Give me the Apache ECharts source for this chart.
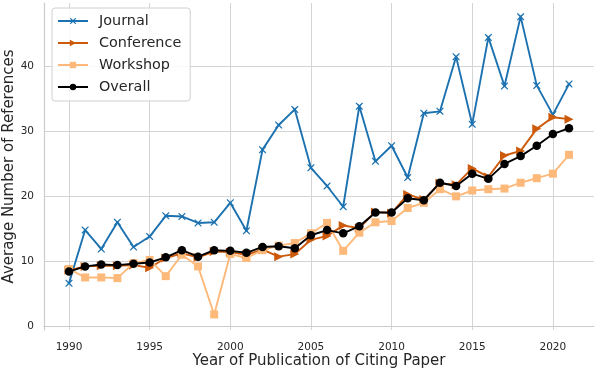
<!DOCTYPE html>
<html>
<head>
<meta charset="utf-8">
<script src="https://cdn.jsdelivr.net/npm/echarts@6/dist/echarts.min.js"></script>
<style>
html,body{margin:0;padding:0;background:#fff;}
#chart{width:596px;height:370px;}
</style>
</head>
<body>
<div id="chart"></div>
<script>
var years = [1990,1991,1992,1993,1994,1995,1996,1997,1998,1999,2000,2001,2002,2003,2004,2005,2006,2007,2008,2009,2010,2011,2012,2013,2014,2015,2016,2017,2018,2019,2020,2021];
var journal = [6.6,14.8,11.9,16.0,12.2,13.8,17.0,16.9,15.9,16.0,19.0,14.7,27.2,31.0,33.4,24.4,21.6,18.4,33.9,25.4,27.8,22.9,32.8,33.1,41.5,31.1,44.5,37.0,47.7,37.1,32.6,37.3];
var conference = [8.6,9.2,9.3,9.3,9.4,9.0,10.5,11.2,10.6,11.5,11.4,11.0,11.8,10.7,11.1,13.3,13.9,15.5,15.1,17.6,17.4,20.3,19.5,22.0,21.8,24.3,23.0,26.3,27.0,30.4,32.2,31.9];
var workshop = [8.8,7.5,7.5,7.4,9.7,10.2,7.7,11.0,9.2,1.8,11.1,10.5,11.7,12.4,12.8,14.3,15.9,11.6,14.4,16.0,16.2,18.2,19.0,21.1,20.0,20.9,21.1,21.2,22.1,22.8,23.5,26.4];
var overall = [8.4,9.2,9.5,9.4,9.6,9.8,10.6,11.7,10.7,11.7,11.6,11.3,12.2,12.3,12.0,14.0,14.8,14.3,15.4,17.5,17.5,19.7,19.4,22.1,21.6,23.5,22.7,25.0,26.2,27.8,29.6,30.5];
var xTicks = [1990,1995,2000,2005,2010,2015,2020];
var yTicks = [0,10,20,30,40];

function pairs(vals){ return years.map(function(y,i){ return [y, vals[i]]; }); }

var xSym = 'path://M1,0 L5,3.6 L9,0 L10,1 L6.4,5 L10,9 L9,10 L5,6.4 L1,10 L0,9 L3.6,5 L0,1 Z';
var font = 'DejaVu Sans';

var chart = echarts.init(document.getElementById('chart'), null, {renderer:'canvas'});
chart.setOption({
  animation: false,
  backgroundColor: '#fff',
  textStyle: {fontFamily: font},
  grid: {left: 44, right: 2, top: 3, bottom: 40, containLabel: false, outerBoundsMode: 'none'},
  legend: {
    orient: 'vertical', left: 52, top: 8,
    itemWidth: 30, itemHeight: 8, itemGap: 8,
    padding: [6, 9, 7, 5],
    backgroundColor: 'rgba(255,255,255,0.85)',
    borderColor: '#d0d0d0', borderWidth: 1, borderRadius: 3,
    textStyle: {fontFamily: font, fontSize: 14.4, color: '#262626', padding: [0,0,0,6]},
    data: ['Journal','Conference','Workshop','Overall']
  },
  xAxis: {
    type: 'value', min: 1988.45, max: 2022.55,
    name: 'Year of Publication of Citing Paper', nameLocation: 'middle', nameGap: 24,
    nameMoveOverlap: false,
    nameTextStyle: {fontFamily: font, fontSize: 15, color: '#262626'},
    axisLine: {show: true, lineStyle: {color: '#cccccc', width: 1.2}},
    axisTick: {show: false, customValues: xTicks},
    axisLabel: {customValues: xTicks, fontFamily: font, fontSize: 10.5, color: '#262626', margin: 12,
      formatter: function(v){ return String(Math.round(v)); }},
    splitLine: {show: true, lineStyle: {color: '#d4d4d4', width: 1}}
  },
  yAxis: {
    type: 'value', min: -0.6, max: 49.8,
    name: 'Average Number of References', nameLocation: 'middle', nameGap: 27.5,
    nameMoveOverlap: false,
    nameTextStyle: {fontFamily: font, fontSize: 15, color: '#262626'},
    axisLine: {show: true, lineStyle: {color: '#cccccc', width: 1.2}},
    axisTick: {show: false, customValues: yTicks},
    axisLabel: {customValues: yTicks, fontFamily: font, fontSize: 10.5, color: '#262626', margin: 10,
      formatter: function(v){ return String(Math.round(v)); }},
    splitLine: {show: true, lineStyle: {color: '#d4d4d4', width: 1}}
  },
  series: [
    {name: 'Journal', type: 'line', data: pairs(journal), color: '#1c72b0',
     symbol: xSym, symbolSize: 7.5, symbolKeepAspect: true, showAllSymbol: true,
     lineStyle: {width: 1.9, color: '#1c72b0'}, itemStyle: {color: '#1c72b0'}, z: 2},
    {name: 'Conference', type: 'line', data: pairs(conference), color: '#cc5a0a',
     symbol: 'triangle', symbolRotate: -90, symbolSize: 9, showAllSymbol: true,
     lineStyle: {width: 1.9, color: '#cc5a0a'}, itemStyle: {color: '#cc5a0a'}, z: 3},
    {name: 'Workshop', type: 'line', data: pairs(workshop), color: '#fdb97a',
     symbol: 'rect', symbolSize: 8, showAllSymbol: true,
     lineStyle: {width: 1.9, color: '#fdb97a'}, itemStyle: {color: '#fdb97a'}, z: 4},
    {name: 'Overall', type: 'line', data: pairs(overall), color: '#000000',
     symbol: 'circle', symbolSize: 8.5, showAllSymbol: true,
     lineStyle: {width: 1.9, color: '#000000'}, itemStyle: {color: '#000000'}, z: 5}
  ]
});
</script>
</body>
</html>
